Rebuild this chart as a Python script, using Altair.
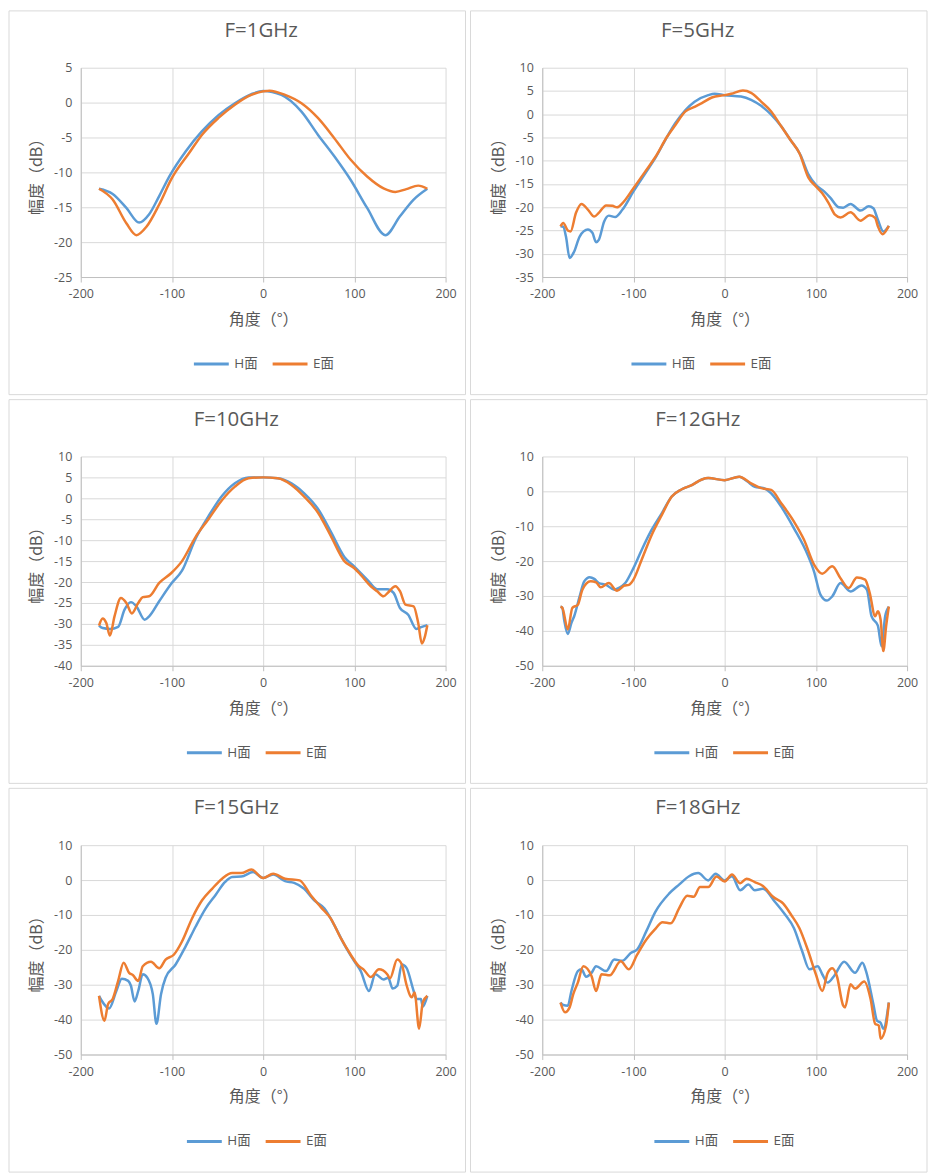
import altair as alt
import pandas as pd

BLUE = "#5B9BD5"
ORANGE = "#ED7D31"
GREY = "#595959"

# ---- F=1GHz ----
H1_ANG = [-180, -165, -150, -136, -125, -114, -103, -85, -67, -49, -31, -13, 0, 20, 42, 60, 78, 96, 114, 134, 150, 165, 180]
H1_DB = [-12.35, -13.1, -15.1, -17.2, -16.0, -13.4, -10.6, -7.0, -4.1, -1.8, -0.1, 1.2, 1.67, 1.1, -1.3, -4.6, -7.7, -11.1, -15.1, -19.0, -16.3, -13.9, -12.35]
E1_ANG = [-180, -165, -150, -139, -128, -114, -100, -81, -67, -49, -31, -13, 7, 24, 42, 60, 78, 96, 114, 132, 145, 157, 170, 180]
E1_DB = [-12.35, -13.9, -17.3, -19.0, -17.8, -14.6, -10.8, -7.2, -4.6, -2.2, -0.3, 1.1, 1.7, 1.1, -0.1, -2.2, -5.1, -8.2, -10.6, -12.3, -12.8, -12.4, -11.9, -12.35]

# ---- F=5GHz ----
H2_ANG = [-180, -177, -174, -170, -165, -159, -150, -145, -141, -138, -132, -127, -120, -112, -100, -87, -76, -63, -54, -43,
          -33, -18, -11, 0, 18, 29, 40, 51, 62, 72, 83, 92, 100, 109, 116, 125, 130, 138, 149, 158, 163, 168, 174, 180]
H2_DB = [-24.1, -24.2, -26.3, -30.9, -29.5, -26.3, -24.8, -25.5, -27.5, -27.0, -23.0, -21.8, -22.1, -20.5, -16.6, -12.7, -9.4, -4.8, -1.9, 0.9,
         2.7, 4.1, 4.4, 4.1, 3.8, 3.1, 1.8, -0.1, -2.6, -5.5, -8.7, -13.0, -15.2, -16.6, -18.0, -20.0, -20.1, -19.3, -20.7, -19.8, -20.2, -22.7, -25.2, -24.0]
E2_ANG = [-180, -177, -172, -169, -163, -157, -150, -143, -138, -130, -123, -118, -112, -100, -87, -76, -63, -54, -43, -33,
          -25, -14, 0, 7, 20, 29, 40, 51, 62, 72, 82, 92, 100, 107, 114, 121, 127, 138, 149, 159, 165, 168, 173, 180]
E2_DB = [-24.1, -23.4, -25.0, -25.2, -21.2, -19.3, -20.5, -22.0, -21.2, -19.6, -19.7, -20.0, -19.1, -15.9, -12.3, -9.2, -4.8, -2.3, 0.6, 1.6,
         2.4, 3.6, 4.1, 4.4, 5.1, 4.6, 2.7, 0.6, -2.6, -5.5, -8.4, -13.7, -15.5, -17.0, -19.1, -21.6, -22.2, -21.1, -22.9, -21.7, -22.3, -24.1, -25.8, -24.0]

# ---- F=10GHz ----
H3_ANG = [-180, -176, -168, -159, -152, -145, -139, -130, -125, -114, -100, -89, -74, -60, -45, -31, -16, 0, 16, 31,
          45, 60, 74, 89, 100, 114, 125, 136, 143, 150, 159, 168, 174, 180]
H3_DB = [-30.4, -31.0, -31.2, -30.7, -26.6, -24.8, -25.8, -29.0, -28.2, -24.6, -20.2, -17.3, -9.6, -4.3, 0.6, 3.6, 5.0, 5.0, 4.8, 3.6,
         1.2, -2.5, -7.9, -14.0, -16.3, -19.4, -21.7, -21.7, -22.6, -26.2, -27.8, -31.2, -30.7, -30.3]
E3_ANG = [-180, -176, -172, -168, -163, -156, -150, -144, -137, -132, -125, -114, -101, -89, -74, -60, -45, -31, -16, 0,
          16, 31, 45, 60, 74, 89, 100, 107, 118, 125, 132, 137, 145, 150, 156, 165, 170, 174, 177, 180]
E3_DB = [-30.4, -28.7, -29.8, -32.8, -28.2, -23.8, -25.0, -27.5, -25.0, -23.6, -23.4, -20.2, -17.9, -15.0, -9.2, -5.0, -0.4, 2.8, 4.8, 5.0,
         4.8, 3.2, 0.4, -3.4, -8.9, -15.0, -16.7, -18.3, -21.0, -22.2, -23.4, -22.5, -21.0, -22.2, -25.4, -25.8, -29.8, -34.7, -33.3, -30.3]

# ---- F=12GHz ----
H4_ANG = [-180, -178, -176, -172, -168, -165, -159, -154, -148, -143, -138, -130, -121, -116, -109, -100, -91, -80, -69, -58,
          -47, -36, -25, -18, 0, 16, 25, 33, 43, 51, 62, 76, 91, 98, 105, 112, 118, 127, 138, 150,
          156, 161, 168, 172, 176, 180]
H4_DB = [-33.1, -33.4, -36.8, -40.9, -37.7, -35.8, -30.1, -25.8, -24.6, -25.1, -26.3, -26.8, -28.2, -27.7, -26.3, -22.0, -16.8, -11.0, -6.3, -1.5,
         0.6, 1.8, 3.4, 3.8, 3.2, 4.2, 2.8, 1.3, 0.9, -0.6, -4.4, -10.6, -18.2, -23.0, -29.6, -31.3, -30.1, -26.3, -28.7, -27.0,
         -28.2, -35.8, -38.5, -44.4, -35.8, -33.1]
E4_ANG = [-180, -178, -172, -167, -161, -156, -147, -141, -136, -127, -118, -110, -105, -100, -91, -80, -69, -58, -47, -36,
          -25, -18, 0, 16, 29, 40, 51, 62, 76, 87, 98, 107, 118, 127, 136, 145, 154, 159, 165, 168,
          171, 174, 177, 180]
E4_DB = [-33.1, -33.4, -39.6, -33.4, -32.5, -28.2, -25.8, -26.1, -27.5, -26.3, -28.5, -27.0, -26.8, -25.3, -19.6, -12.5, -6.8, -1.5, 0.6, 1.8,
         3.4, 3.8, 3.2, 4.2, 2.3, 0.9, 0.4, -3.4, -8.7, -13.9, -21.0, -23.6, -21.5, -24.9, -27.7, -24.7, -25.3, -29.1, -35.8, -34.4,
         -36.8, -45.8, -38.7, -33.0]

# ---- F=15GHz ----
H5_ANG = [-180, -177, -169, -161, -155, -148, -145, -141, -137, -132, -127, -121, -117, -112, -107, -96, -85, -74, -63, -52,
          -42, -34, -24, -11, 0, 11, 24, 34, 45, 56, 67, 78, 89, 100, 107, 116, 123, 132, 137, 142,
          147, 152, 157, 165, 168, 173, 175, 180]
H5_DB = [-33.2, -34.6, -36.8, -31.8, -28.3, -28.9, -30.3, -34.8, -31.8, -27.0, -28.0, -32.7, -41.2, -32.7, -28.0, -24.2, -19.0, -13.3, -8.1, -4.2,
         -0.6, 0.9, 1.0, 2.3, 0.6, 1.6, -0.3, -0.8, -2.5, -5.8, -8.1, -12.9, -18.5, -23.3, -26.1, -31.8, -27.0, -28.5, -28.0, -31.1,
         -30.3, -24.2, -25.1, -31.8, -34.1, -34.1, -36.3, -33.2]
E5_ANG = [-180, -174, -170, -165, -159, -153, -147, -143, -137, -132, -123, -114, -107, -98, -89, -78, -67, -56, -45, -34,
          -24, -13, 0, 11, 24, 40, 52, 63, 74, 85, 96, 105, 110, 118, 127, 136, 139, 147, 152, 157,
          163, 166, 171, 175, 180]
E5_DB = [-33.2, -40.3, -35.5, -34.1, -28.9, -23.7, -26.6, -27.2, -28.9, -24.7, -23.4, -25.3, -22.8, -21.4, -17.6, -11.0, -5.8, -2.5, 0.4, 2.0,
         2.0, 3.0, 0.6, 1.8, 0.4, -0.1, -4.3, -7.7, -11.0, -16.6, -21.4, -24.7, -25.6, -27.8, -25.6, -27.0, -28.2, -22.8, -24.2, -29.9,
         -33.6, -32.2, -42.6, -35.1, -33.2]

# ---- F=18GHz ----
H6_ANG = [-180, -177, -172, -168, -161, -157, -152, -146, -141, -130, -121, -112, -103, -96, -86, -76, -61, -50, -39, -29,
          -18, -10, 0, 8, 17, 26, 33, 42, 55, 66, 76, 85, 93, 102, 107, 113, 120, 131, 143, 151,
          155, 163, 167, 171, 174, 180]
H6_DB = [-35.1, -35.8, -36.0, -31.8, -26.1, -25.6, -27.7, -26.6, -24.7, -26.1, -22.8, -23.1, -20.9, -19.9, -14.7, -9.1, -3.9, -1.3, 1.1, 2.0,
         -0.1, 1.8, -0.1, 1.1, -2.9, -1.3, -2.9, -2.5, -6.2, -9.8, -13.8, -20.4, -25.6, -24.7, -27.0, -29.4, -27.5, -23.4, -26.6, -23.7,
         -26.1, -35.5, -40.3, -40.9, -42.6, -35.1]
E6_ANG = [-180, -175, -170, -166, -161, -155, -146, -141, -135, -126, -114, -105, -96, -86, -77, -68, -59, -50, -41, -34,
          -27, -18, -9, 0, 8, 17, 24, 33, 42, 53, 64, 73, 82, 91, 100, 107, 113, 118, 123, 130,
          132, 138, 143, 153, 160, 165, 169, 171, 177, 180]
E6_DB = [-35.1, -37.9, -36.5, -32.7, -29.4, -24.7, -27.5, -31.8, -27.0, -27.3, -23.3, -25.6, -21.4, -17.1, -14.3, -12.1, -12.4, -8.1, -4.5, -4.8,
         -2.0, -2.0, 1.0, -0.4, 1.6, -0.9, 0.4, -0.6, -1.7, -4.8, -6.7, -10.0, -13.8, -19.9, -27.0, -31.8, -26.6, -25.3, -27.5, -36.0,
         -36.5, -29.9, -31.1, -29.1, -34.1, -41.2, -41.7, -45.5, -41.7, -35.1]

TITLES = ["F=1GHz", "F=5GHz", "F=10GHz", "F=12GHz", "F=15GHz", "F=18GHz"]
Y_RANGES = [(-25, 5, 5), (-35, 10, 5), (-40, 10, 5), (-50, 10, 10), (-50, 10, 10), (-50, 10, 10)]
SERIES = ["H面", "E面"]

PW, PH = 366, 210          # plot area of one panel
BOX_L, BOX_R, BOX_T, BOX_B = 72, 20, 57, 118   # panel frame around the plot area
CJK = "Noto Sans CJK SC"
LATIN = "Open Sans"


def panel(title, yr, h_ang, h_db, e_ang, e_db, title_x=156, legend_cx=172):
    df = pd.concat([
        pd.DataFrame({"angle": h_ang, "db": h_db, "series": SERIES[0]}),
        pd.DataFrame({"angle": e_ang, "db": e_db, "series": SERIES[1]}),
    ])
    ymin, ymax, ystep = yr

    x = alt.X("angle:Q", scale=alt.Scale(domain=[-200, 200], nice=False),
              axis=alt.Axis(values=[-200, -100, 0, 100, 200], title="角度（°）",
                            labelExpr="'' + datum.value", labelFlush=False, tickSize=5,
                            labelPadding=6, titlePadding=11))
    y = alt.Y("db:Q", scale=alt.Scale(domain=[ymin, ymax], nice=False, zero=False),
              axis=alt.Axis(values=list(range(ymin, ymax + 1, ystep)), title="幅度（dB）",
                            labelExpr="'' + datum.value", labelFlush=False, ticks=False,
                            tickSize=0, labelPadding=9, titlePadding=9))
    color = alt.Color("series:N", scale=alt.Scale(domain=SERIES, range=[BLUE, ORANGE]),
                      legend=alt.Legend(title=None, orient="none", direction="horizontal",
                                        legendX=legend_cx - 66, legendY=PH + 68,
                                        symbolType="stroke", symbolSize=1225, symbolStrokeWidth=3,
                                        labelFont=f"{LATIN}, {CJK}", labelFontSize=13.5,
                                        labelColor=GREY, labelOffset=4, columnPadding=8))

    base = alt.Chart(df)
    h_line = base.transform_filter(alt.datum.series == SERIES[0]).mark_line(
        interpolate="monotone", strokeWidth=2.5).encode(x=x, y=y, color=color)
    e_line = base.transform_filter(alt.datum.series == SERIES[1]).mark_line(
        interpolate="monotone", strokeWidth=2.5).encode(x=x, y=y, color=color)

    one = pd.DataFrame({"t": [title]})
    frame = alt.Chart(one).mark_rect(fillOpacity=0, stroke="#d9d9d9", strokeWidth=1).encode(
        x=alt.value(-BOX_L), x2=alt.value(PW + BOX_R),
        y=alt.value(-BOX_T), y2=alt.value(PH + BOX_B))
    head = alt.Chart(one).mark_text(font=LATIN, fontSize=20.5, color=GREY, baseline="middle").encode(
        text="t:N", x=alt.value(title_x), y=alt.value(-37))

    return alt.layer(frame, head, h_line, e_line).properties(width=PW, height=PH)


p = [
    panel(TITLES[0], Y_RANGES[0], H1_ANG, H1_DB, E1_ANG, E1_DB, title_x=181, legend_cx=178),
    panel(TITLES[1], Y_RANGES[1], H2_ANG, H2_DB, E2_ANG, E2_DB, legend_cx=154),
    panel(TITLES[2], Y_RANGES[2], H3_ANG, H3_DB, E3_ANG, E3_DB, legend_cx=171),
    panel(TITLES[3], Y_RANGES[3], H4_ANG, H4_DB, E4_ANG, E4_DB, legend_cx=177),
    panel(TITLES[4], Y_RANGES[4], H5_ANG, H5_DB, E5_ANG, E5_DB, legend_cx=171),
    panel(TITLES[5], Y_RANGES[5], H6_ANG, H6_DB, E6_ANG, E6_DB, legend_cx=177),
]

rows = [alt.hconcat(p[i], p[i + 1], spacing=3).resolve_scale(color="independent")
        for i in (0, 2, 4)]

chart = alt.vconcat(*rows, spacing=3).resolve_scale(color="independent").properties(
    padding=0
).configure_view(
    stroke="transparent"
).configure_axis(
    labelFont=LATIN, labelFontSize=12.5, labelColor=GREY,
    titleFont=CJK, titleFontSize=16, titleColor=GREY, titleFontWeight="normal",
    gridColor="#d9d9d9", domainColor="#bfbfbf", tickColor="#bfbfbf",
    domainWidth=1, gridWidth=1
)

chart.save("out.html", embed_options={"renderer": "svg", "actions": False})
